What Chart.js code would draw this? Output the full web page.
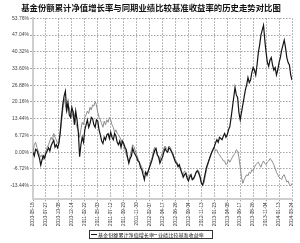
<!DOCTYPE html>
<html><head><meta charset="utf-8">
<script src="https://cdn.jsdelivr.net/npm/chart.js@4.4.1/dist/chart.umd.min.js"></script>
<style>html,body{margin:0;padding:0;background:#fff}#wrap{width:300px;height:243px}</style>
</head><body><div id="wrap"><canvas id="c" width="300" height="243"></canvas></div>
<script>
const titleText = "基金份额累计净值增长率与同期业绩比较基准收益率的历史走势对比图";
const seriesNames = ["基金份额累计净值增长率", "业绩比较基准收益率"];
const dateLabels = ["2010-05-18","2010-07-27","2010-10-08","2010-12-14","2011-02-22","2011-05-03","2011-07-12","2011-09-20","2011-11-30","2012-02-07","2012-04-17","2012-06-26","2012-09-04","2012-11-13","2013-01-23","2013-04-08","2013-06-17","2013-08-26","2013-11-04","2014-01-13","2014-03-24"];
const yTickValues = [-13.44,-6.72,0,6.72,13.44,20.16,26.88,33.60,40.32,47.04,53.76];
// values sampled every 1 unit along x (0..200), 10 units per date label
const fundValues = [
0,-1.5,1.2,0.8,-0.8,-2.5,-5.2,-3,-1.5,-2.4,
-0.5,0.6,1.8,0.5,2.6,3.8,4.8,2,3.0,1.8,
3.5,8,14,19,22.5,24.5,17,20,15,14,
18,16,11,16.5,13,8,-1.8,3,6,4,
9,11,13,10,11.5,14,13.5,11,10,13,
12.5,9,7,4.5,3.5,6,5,7,7.5,5.5,
8,6,5,7.5,6.5,4,3,4.5,2,4.5,
3.5,2,1,-2,-4.4,-2.5,-1.5,1.5,0,-1,
-2,-3.5,-4,-6,-7,-9,-11,-8,-9,-7.5,
-6,-4.5,-3,-1,0.8,1.5,-1,-2,-4.4,-3,
-2,0,1.5,0.5,0,1.8,1.2,0.2,-1,-2.5,
-4,-4.5,-5.8,-5,-7,-8.5,-10,-9,-8.5,-10.5,
-11.5,-10,-9,-11,-10.5,-9.5,-8,-7.5,-8.5,-10,
-12.5,-13.2,-11,-8.5,-6,-4.5,-3,-1.5,0,1,
2.2,3.8,5,4,6,5.5,5,6.5,7.5,6,
7,9,10.3,14,18,22,26,23,22,16,
13,16,19,22,25,27,30,28,29,32,
34,33,31,35,40,43,47,49,51,45,
40,36,34.5,37,38,35,33,34,31,33,
36,38,41,43,45,42,38,36,35,31,
29];
const benchValues = [
0,3,4,2,0.5,-1,-2,-1,-3,-1.5,
0.5,2,3,4.5,6,5,7.5,6,5,3.5,
4,7,12,17,21.5,19,16,19,18,15,
14,16.5,15,12,10,8.5,6,9,12,11,
14,15,16.5,15.5,18,17,19,18.5,20.3,19,
16,14,13,11.5,10,12.5,11,13,12,14,
13,11,10,8,9,7.5,7,6,5,3.5,
3,1,-1,-2.5,-4,-1.5,1,3,2.2,0.5,
-1,-2.5,-4,-5,-6,-7.5,-8.5,-8,-9.7,-7.5,
-6,-3.5,-2,0.5,2,0.5,-1,-1.5,-3,-1.5,
0,1.5,2.5,1.5,1,2.5,2,0.5,-0.5,-2,
-3,-4,-5,-5.5,-6.5,-8,-9,-7.5,-8,-9.5,
-10.5,-9,-9.5,-11,-11,-9.5,-8,-7,-7.5,-9.5,
-12,-13,-12.5,-9.5,-7,-5,-3,-1.5,0,1.5,
2,0.5,1,-0.5,-1,-2,-2.5,-3.5,-3.5,-5,
-4.5,-3,-4,-3,-2,-1,-0.5,1,0.5,-2,
-5.8,-10,-12.5,-11,-10,-9,-9.5,-8,-8.5,-7,
-7.5,-6,-5,-4.5,-4,-5,-6,-4.5,-3.5,-4.5,
-5,-4,-3.5,-2.5,-3,-4,-5,-6.5,-8,-9,
-10,-10.5,-11,-9.5,-9,-10.5,-12,-11.5,-13,-13.5,
-12.5];
const xStep = 1;

const toPoints = arr => arr.map((v,i)=>({x:i*xStep, y:v}));
const colors = ["#151515", "#8c8c8c"];

const titlePlugin = {
  id:'ttl',
  afterDraw(chart){
    const ctx = chart.ctx; ctx.save();
    ctx.font = "bold 8.4px 'Noto Sans CJK SC'";
    ctx.fillStyle = "#111"; ctx.textAlign = "center"; ctx.textBaseline = "middle";
    ctx.fillText(titleText, 151, 7.5);
    const bx = 89.5, by = 230.5, bw = 123, bh = 8;
    ctx.strokeStyle = "#333"; ctx.lineWidth = 1;
    ctx.strokeRect(bx, by, bw, bh);
    ctx.font = "5.1px 'Noto Sans CJK SC'"; ctx.textAlign = "left"; ctx.textBaseline = "middle";
    const items = [[91, 98], [151, 158]];
    chart.data.datasets.forEach((ds, i) => {
      const [lx, tx] = items[i];
      ctx.strokeStyle = ds.borderColor; ctx.lineWidth = 1;
      ctx.beginPath(); ctx.moveTo(lx, by + bh/2); ctx.lineTo(lx + 6, by + bh/2); ctx.stroke();
      ctx.fillStyle = "#222";
      ctx.fillText(ds.label, tx, by + bh/2 + 0.3);
    });
    ctx.restore();
  }
};

new Chart(document.getElementById('c'), {
  type: 'line',
  data: {
    datasets: [
      {label: seriesNames[0], data: toPoints(fundValues), borderColor: colors[0], borderWidth: 1.2, pointRadius: 0, tension: 0, fill: false},
      {label: seriesNames[1], data: toPoints(benchValues), borderColor: colors[1], borderWidth: 1, pointRadius: 0, tension: 0, fill: false}
    ]
  },
  options: {
    responsive: false, animation: false,
    layout: {padding: {left: 0, right: 8, top: 18.3, bottom: 0}},
    plugins: {legend: {display: false}, title: {display: false}, tooltip: {enabled: false}},
    scales: {
      x: {
        type: 'linear', min: 0, max: 200,
        ticks: {stepSize: 10, autoSkip: false, maxRotation: 90, minRotation: 90, padding: 1,
          font: {family: "'Liberation Sans'", size: 4.7}, color: "#333",
          callback: v => dateLabels[Math.round(v/10)] || ''},
        afterBuildTicks: s => { s.ticks = dateLabels.map((d,i)=>({value: i*10})); },
        grid: {color: "#8a8a8a", lineWidth: 0.8, tickLength: 2},
        border: {display: true, color: "#cfcfcf", width: 2, dash: [1.5, 1.5]},
        afterFit: s => { s.height = 43.7; }
      },
      y: {
        type: 'linear', min: -18.9, max: 53.76,
        afterBuildTicks: s => { s.ticks = yTickValues.map(v=>({value: v})); },
        ticks: {padding: 1, font: {family: "'Liberation Sans'", size: 5}, color: "#444",
          callback: v => v.toFixed(2) + '%'},
        grid: {color: "#8a8a8a", lineWidth: 0.8, tickLength: 3},
        border: {display: true, color: "#cfcfcf", width: 2, dash: [1.5, 1.5]},
        afterFit: s => { s.width = 33; }
      }
    }
  },
  plugins: [titlePlugin]
});
</script></body></html>
